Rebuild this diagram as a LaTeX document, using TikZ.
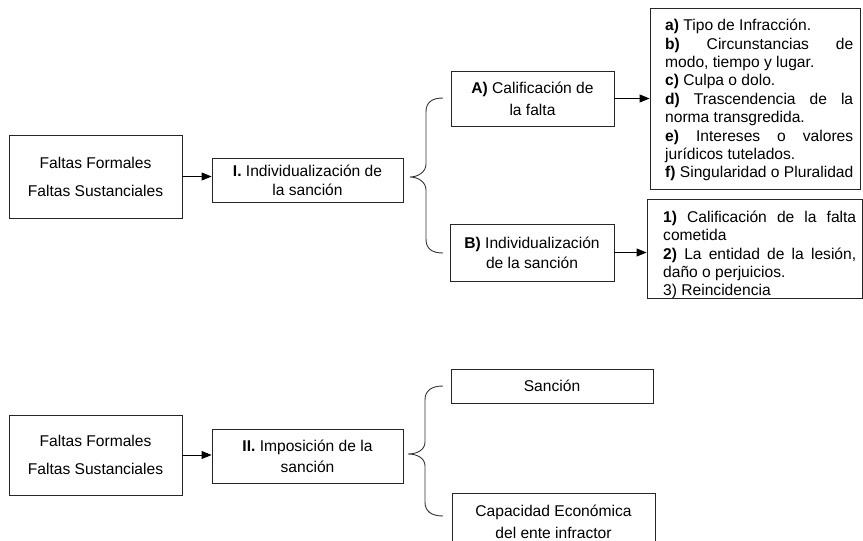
\documentclass[tikz,border=0pt]{standalone}
\usepackage{fontspec}
\setmainfont{Liberation Sans}
\usetikzlibrary{arrows.meta,calc}
\newcommand{\jline}[2]{\makebox[#1][s]{\spaceskip=0pt\xspaceskip=0pt #2}}
\begin{document}
\begin{tikzpicture}[x=1pt,y=-1pt,
  box/.style={draw=black!85, line width=0.9pt, inner sep=0pt, align=center, text=black,
    execute at begin node={\spaceskip=0pt\xspaceskip=0pt}},
  arr/.style={draw=black, line width=0.9pt, -{Triangle[length=10pt,width=8pt]}},
  brc/.style={draw=black!80, line width=0.9pt},
  listtext/.style={anchor=north west, inner sep=0pt, align=left, text=black,
    execute at begin node={\spaceskip=0pt\xspaceskip=0pt\hyphenpenalty=10000}}]
\useasboundingbox (0,0) rectangle (863,541);
\clip (0,0) rectangle (863,541);

% ---------- upper part ----------
\node[box, minimum width=173pt, minimum height=83pt, font=\fontsize{15.6}{28}\selectfont] (f1) at (95.5,176.5) {Faltas Formales\\Faltas Sustanciales};
\node[box, minimum width=191pt, minimum height=44pt, font=\fontsize{15.6}{19}\selectfont] (i1) at (307.5,180) {\textbf{I.} Individualización de\\la sanción};
\draw[arr] (f1.east) -- (f1.east -| i1.west);

\draw[brc] (443,98) .. controls (431,98) and (426,103) .. (426,112) -- (426,164)
  .. controls (426,172) and (418,177) .. (410,177)
  .. controls (418,177) and (426,182) .. (426,190) -- (426,239)
  .. controls (426,248) and (431,253) .. (443,253);

\node[box, minimum width=163pt, minimum height=55pt, font=\fontsize{15.6}{22}\selectfont] (ca) at (532.5,98.5) {\textbf{A)} Calificación de\\la falta};
\node[box, minimum width=164pt, minimum height=57pt, font=\fontsize{15.6}{20}\selectfont] (ib) at (532,252.5) {\textbf{B)} Individualización\\de la sanción};

\node[box, minimum width=210pt, minimum height=181pt] (r1) at (755,98.5) {};
\node[listtext, text width=190pt, font=\fontsize{15.6}{18.4}\selectfont] (r1t) at (665,17.5)
 {\rule{0pt}{13pt}\textbf{a)} Tipo de Infracción.\\
  \jline{188pt}{\textbf{b)} Circunstancias de}\\
  modo, tiempo y lugar.\\
  \textbf{c)} Culpa o dolo.\\
  \jline{188pt}{\textbf{d)} Trascendencia de la}\\
  norma transgredida.\\
  \jline{188pt}{\textbf{e)} Intereses o valores}\\
  jurídicos tutelados.\\
  \textbf{f)} Singularidad o Pluralidad};

\node[box, minimum width=215pt, minimum height=99pt] (r2) at (754.5,248.5) {};
\node[listtext, text width=195pt, font=\fontsize{15.6}{18.2}\selectfont] (r2t) at (663,209.5)
 {\rule{0pt}{13pt}\jline{193pt}{\textbf{1)} Calificación de la falta}\\
  cometida\\
  \jline{193pt}{\textbf{2)} La entidad de la lesión,}\\
  daño o perjuicios.\\
  3) Reincidencia};

\draw[arr] (ca.east) -- (ca.east -| r1.west);
\draw[arr] (ib.east) -- (ib.east -| r2.west);

% ---------- lower part ----------
\node[box, minimum width=173pt, minimum height=80pt, font=\fontsize{15.6}{28}\selectfont] (f2) at (95.5,455) {Faltas Formales\\Faltas Sustanciales};
\node[box, minimum width=191pt, minimum height=54pt, font=\fontsize{15.6}{21}\selectfont] (i2) at (307.5,456) {\textbf{II.} Imposición de la\\sanción};
\draw[arr] (f2.east) -- (f2.east -| i2.west);

\draw[brc] (443,386) .. controls (431,386) and (425,391) .. (425,400) -- (425,442)
  .. controls (425,450) and (417,454) .. (408,454)
  .. controls (417,454) and (425,458) .. (425,466) -- (425,502)
  .. controls (425,511) and (431,516) .. (443,516);

\node[box, minimum width=202pt, minimum height=34pt, font=\fontsize{15.6}{19}\selectfont] (s) at (552,386) {Sanción};
\node[box, minimum width=203pt, minimum height=57pt, font=\fontsize{15.6}{22}\selectfont] (ce) at (553.5,521.5) {Capacidad Económica\\del ente infractor};
\end{tikzpicture}
\end{document}
